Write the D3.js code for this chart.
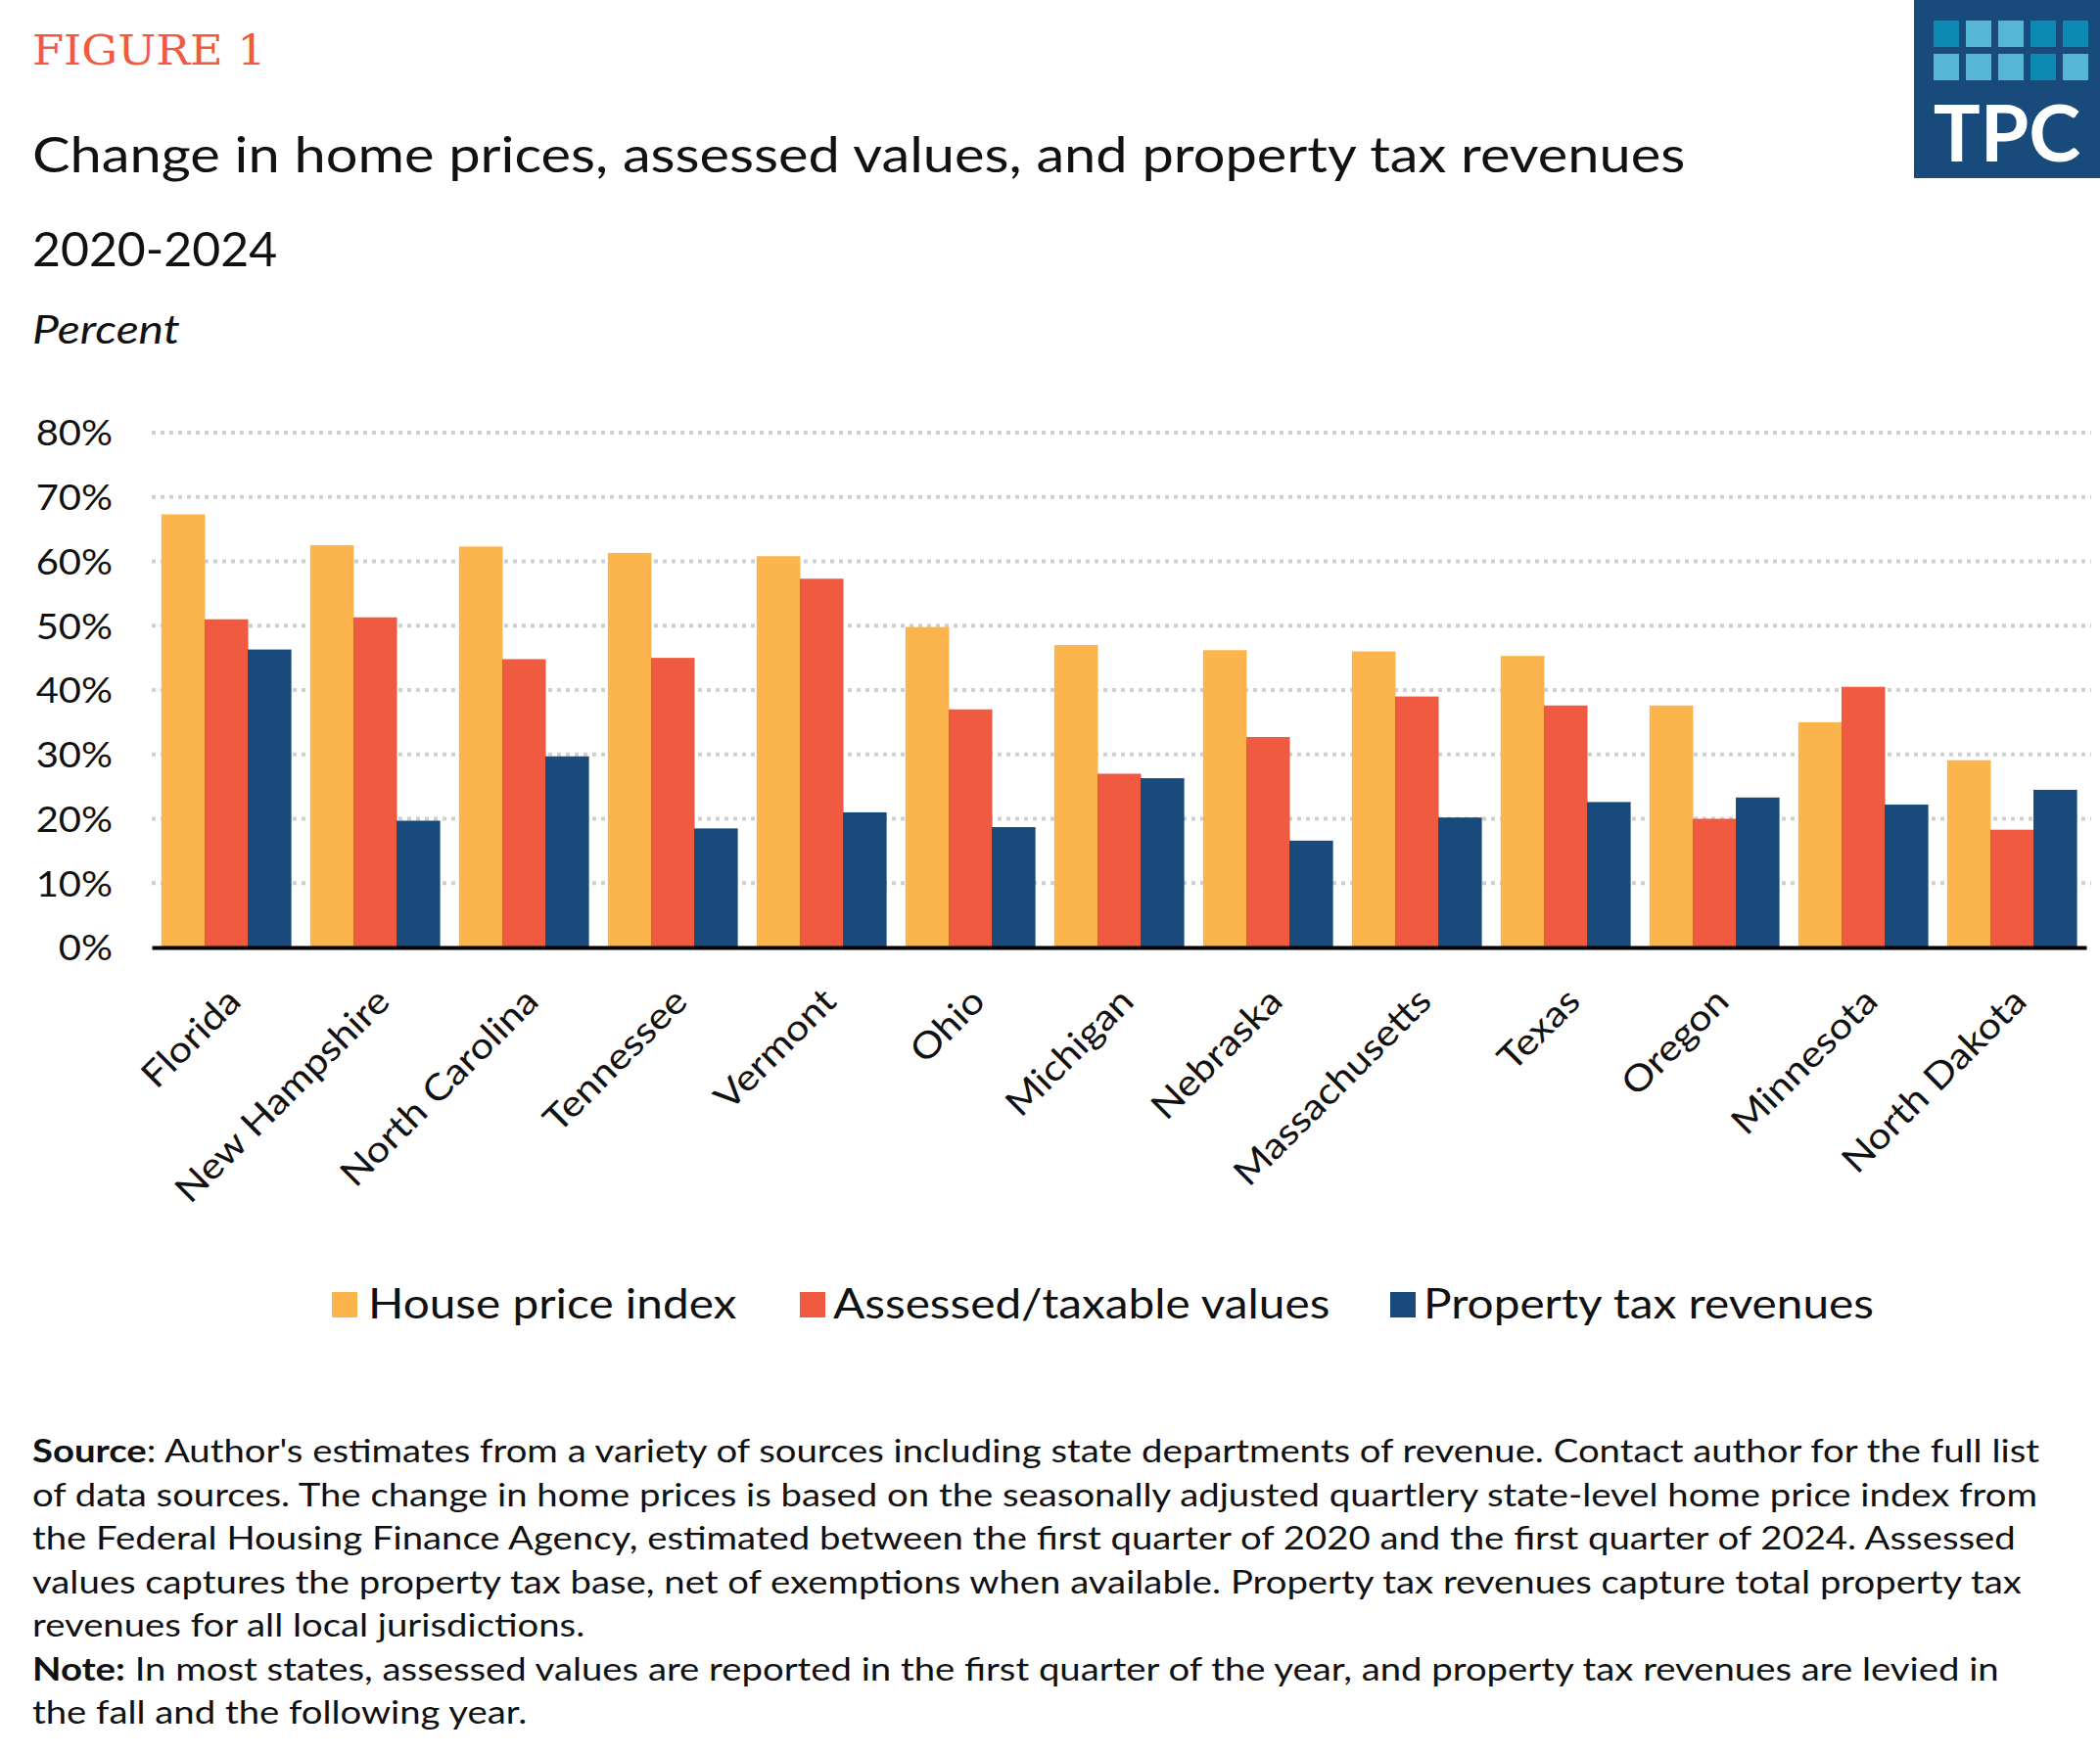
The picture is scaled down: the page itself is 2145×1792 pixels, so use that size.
<!DOCTYPE html>
<html><head><meta charset="utf-8">
<script src="https://cdn.jsdelivr.net/npm/d3@7"></script>
<style>body{margin:0;background:#fff}svg{display:block}</style>
</head><body><svg id="c" width="2145" height="1792"></svg>
<script>
const states=["Florida","New Hampshire","North Carolina","Tennessee","Vermont","Ohio","Michigan","Nebraska","Massachusetts","Texas","Oregon","Minnesota","North Dakota"];
const housePrice=[67.3,62.5,62.3,61.3,60.8,49.8,47.0,46.2,46.0,45.3,37.6,35.0,29.1];
const assessed=[51.0,51.3,44.8,45.0,57.3,37.0,27.0,32.7,39.0,37.6,20.0,40.5,18.3];
const revenues=[46.3,19.7,29.7,18.5,21.0,18.7,26.3,16.6,20.2,22.6,23.3,22.2,24.5];
const seriesNames=["House price index","Assessed/taxable values","Property tax revenues"];
const colors=["#fbb54c","#f05a40","#184a7b"];
const yTicks=[0,10,20,30,40,50,60,70,80];
const F="Lato, 'Noto Sans', sans-serif";
const svg=d3.select("#c");
function stretch(sel,k){sel.each(function(){const w=this.getComputedTextLength();d3.select(this).attr("textLength",w*k).attr("lengthAdjust","spacingAndGlyphs");});}
const data=[housePrice,assessed,revenues];
const x=d3.scaleBand().domain(states).range([155,2131]).paddingInner(0.13).paddingOuter(0.065);
const xs=d3.scaleBand().domain([0,1,2]).range([0,x.bandwidth()]);
const y=d3.scaleLinear().domain([0,80]).range([968,442]);
// header
stretch(svg.append("text").attr("x",33).attr("y",66).text("FIGURE 1").attr("font-family","'DejaVu Serif', serif").attr("font-size",42).attr("fill","#f05a40"),1.1);
stretch(svg.append("text").attr("x",33).attr("y",176).text("Change in home prices, assessed values, and property tax revenues").attr("font-family",F).attr("font-size",50).attr("fill","#111"),1.155);
stretch(svg.append("text").attr("x",33).attr("y",272).text("2020-2024").attr("font-family",F).attr("font-size",48).attr("fill","#111"),1.04);
stretch(svg.append("text").attr("x",33).attr("y",351).text("Percent").attr("font-family",F).attr("font-size",40).attr("font-style","italic").attr("fill","#111"),1.2);
// logo
const lg=svg.append("g").attr("transform","translate(1955,0)");
lg.append("rect").attr("width",190).attr("height",182).attr("fill","#184a7b");
const sqc=[["#0d8ab3","#56b6d4","#56b6d4","#0d8ab3","#0d8ab3"],["#56b6d4","#56b6d4","#56b6d4","#0d8ab3","#56b6d4"]];
sqc.forEach((r,i)=>r.forEach((c,j)=>lg.append("rect").attr("x",20+j*33).attr("y",21+i*34).attr("width",26).attr("height",27).attr("fill",c)));
lg.append("text").attr("x",95).attr("y",165).attr("text-anchor","middle").text("TPC").attr("font-family",F).attr("font-weight","bold").attr("font-size",80).attr("fill","#fff");
// grid
svg.append("g").selectAll("line").data(yTicks.slice(1)).join("line")
 .attr("x1",155).attr("x2",2136).attr("y1",d=>y(d)).attr("y2",d=>y(d))
 .attr("stroke","#cfcfcf").attr("stroke-width",4).attr("stroke-dasharray","4 5");
const ya=svg.append("g").attr("transform","translate(115,0)").call(d3.axisLeft(y).tickValues(yTicks).tickFormat(d=>d+"%").tickSize(0));
ya.select(".domain").remove();
ya.selectAll("text").attr("font-family",F).attr("font-size",37).attr("fill","#111").attr("dy","0.35em").attr("x",0);
stretch(ya.selectAll("text"),1.08);
// bars
data.forEach((arr,si)=>{
 svg.append("g").selectAll("rect").data(arr).join("rect")
  .attr("x",(d,i)=>x(states[i])+xs(si)).attr("width",xs.bandwidth()+0.5)
  .attr("y",d=>y(d)).attr("height",d=>y(0)-y(d)).attr("fill",colors[si]);
});
const xa=svg.append("g").attr("transform","translate(0,968)").call(d3.axisBottom(x).tickSize(0));
xa.select(".domain").attr("stroke","#000").attr("stroke-width",4);
xa.selectAll("text").attr("font-family",F).attr("font-size",37).attr("fill","#111")
 .attr("text-anchor","end").attr("transform","translate(8,48) rotate(-45)").attr("dy","0.35em").attr("y",0);
stretch(xa.selectAll("text"),1.12);
// legend
const lx=[[339,376],[817,851],[1420,1454]];
seriesNames.forEach((n,i)=>{
 svg.append("rect").attr("x",lx[i][0]).attr("y",1320).attr("width",26).attr("height",26).attr("fill",colors[i]);
 stretch(svg.append("text").attr("x",lx[i][1]).attr("y",1347).text(n).attr("font-family",F).attr("font-size",43).attr("fill","#111"),1.11);
});
// footnote
const notes=[["Source",": Author's estimates from a variety of sources including state departments of revenue. Contact author for the full list"],
["","of data sources. The change in home prices is based on the seasonally adjusted quartlery state-level home price index from"],
["","the Federal Housing Finance Agency, estimated between the first quarter of 2020 and the first quarter of 2024. Assessed"],
["","values captures the property tax base, net of exemptions when available. Property tax revenues capture total property tax"],
["","revenues for all local jurisdictions."],
["Note:"," In most states, assessed values are reported in the first quarter of the year, and property tax revenues are levied in"],
["","the fall and the following year."]];
notes.forEach((l,i)=>{
 const t=svg.append("text").attr("x",33).attr("y",1494+i*44.5).attr("font-family",F).attr("font-size",33).attr("fill","#111");
 if(l[0]) t.append("tspan").attr("font-weight","bold").text(l[0]);
 t.append("tspan").text(l[1]);
 stretch(t,1.16);
});
</script></body></html>
